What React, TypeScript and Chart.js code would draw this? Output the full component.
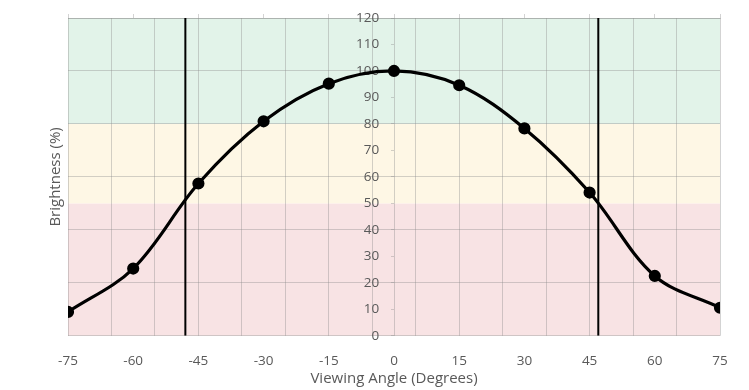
import React, { useEffect, useRef } from 'react';
import { Chart, registerables } from 'chart.js';

Chart.register(...registerables);

const angles = [-75, -60, -45, -30, -15, 0, 15, 30, 45, 60, 75];
const brightness = [9, 25.4, 57.5, 81, 95.2, 100, 94.6, 78.3, 54.1, 22.6, 10.6];
const cutoffAngles = [-48, 47];
const xRange = [-75, 75];
const yRange = [0, 120];
const xTickStep = 15;
const yTickStep = 10;
const yGridStep = 20;
const xGridTicks = [-75, -65, -55, -45, -35, -25, -15, -5, 5, 15, 25, 35, 45, 55, 65, 75];
const bandLimits = [0, 50, 80, 120];
const bandColors = ['#f8e3e4', '#fef7e5', '#e2f3e9'];
const yAxisAt = 0;
const yLabelsAt = -3.4;

const FONT = "'Open Sans', 'Noto Sans', sans-serif";
const TEXT = '#595959';
const GRID = 'rgba(140,140,140,0.38)';

const bandsPlugin = {
  id: 'bands',
  beforeDraw(chart: any) {
    const { ctx, chartArea, scales } = chart;
    const y = scales.y;
    ctx.save();
    for (let i = 0; i < bandColors.length; i++) {
      const top = y.getPixelForValue(bandLimits[i + 1]);
      const bottom = y.getPixelForValue(bandLimits[i]);
      ctx.fillStyle = bandColors[i];
      ctx.fillRect(chartArea.left, top, chartArea.right - chartArea.left, bottom - top);
    }
    ctx.restore();
  },
};

export default function App() {
  const ref = useRef<HTMLCanvasElement | null>(null);
  useEffect(() => {
    document.body.style.margin = '0';
    if (!ref.current) return;
    const curve = angles.map((a, i) => ({ x: a, y: brightness[i] }));
    const cutoffSets = cutoffAngles.map((a) => ({
      data: [
        { x: a, y: yRange[0] },
        { x: a, y: yRange[1] },
      ],
      showLine: true,
      borderColor: '#000',
      borderWidth: 2,
      pointRadius: 0,
      tension: 0,
    }));
    const chart = new Chart(ref.current, {
      type: 'scatter',
      data: {
        datasets: [
          {
            data: curve,
            showLine: true,
            borderColor: '#000',
            backgroundColor: '#000',
            borderWidth: 3.2,
            pointRadius: 4.5,
            pointBackgroundColor: '#000',
            pointBorderColor: '#000',
            tension: 0.35,
          },
          ...cutoffSets,
        ] as any,
      },
      options: {
        animation: false,
        responsive: false,
        layout: { padding: { left: 47, right: 29, top: 14, bottom: 2.5 } },
        plugins: { legend: { display: false }, tooltip: { enabled: false } },
        scales: {
          x: {
            type: 'linear',
            position: 'bottom',
            min: xRange[0],
            max: xRange[1],
            ticks: { stepSize: xTickStep, color: TEXT, font: { family: FONT, size: 13.5 }, padding: 17.5 },
            grid: { display: false, drawTicks: false },
            border: { display: false },
            title: {
              display: true,
              text: 'Viewing Angle (Degrees)',
              color: TEXT,
              font: { family: FONT, size: 15 },
              padding: { top: -17.5, bottom: 0 },
            },
          },
          xTop: {
            type: 'linear',
            position: 'top',
            min: xRange[0],
            max: xRange[1],
            ticks: { display: false, stepSize: xTickStep },
            grid: { drawOnChartArea: false, drawTicks: true, tickLength: 4, color: GRID },
            border: { display: true, color: GRID },
          },
          xGrid: {
            type: 'linear',
            position: 'top',
            min: xRange[0],
            max: xRange[1],
            afterBuildTicks: (s: any) => {
              s.ticks = xGridTicks.map((v) => ({ value: v }));
            },
            ticks: { display: false },
            grid: { drawTicks: false, color: GRID },
            border: { display: false },
          },
          y: {
            type: 'linear',
            position: { x: yAxisAt } as any,
            min: yRange[0],
            max: yRange[1],
            ticks: { stepSize: yTickStep, display: false },
            grid: {
              color: (c: any) => (c.tick && c.tick.value % yGridStep === 0 ? GRID : 'rgba(0,0,0,0)'),
              tickColor: GRID,
              tickLength: 3,
            },
            border: { display: true, color: GRID },
          },
          yLabels: {
            type: 'linear',
            position: { x: yLabelsAt } as any,
            min: yRange[0],
            max: yRange[1],
            ticks: { stepSize: yTickStep, color: TEXT, font: { family: FONT, size: 13.5 } },
            grid: { display: false, drawTicks: false },
            border: { display: false },
          },
          yTitle: {
            type: 'linear',
            position: 'left',
            min: 0,
            max: 1,
            ticks: { display: false },
            grid: { display: false, drawTicks: false },
            border: { display: false },
            title: {
              display: true,
              text: 'Brightness (%)',
              color: TEXT,
              font: { family: FONT, size: 15 },
              padding: { top: 0, bottom: 3 },
            },
          },
        } as any,
      },
      plugins: [bandsPlugin],
    });
    return () => chart.destroy();
  }, []);
  return (
    <div style={{ width: 749, height: 390 }}>
      <canvas ref={ref} width={749} height={390} />
    </div>
  );
}
